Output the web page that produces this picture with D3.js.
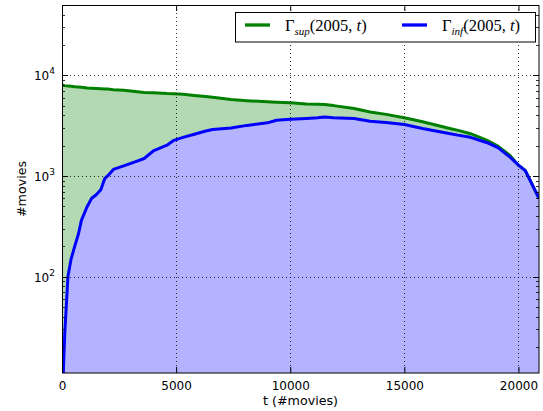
<!DOCTYPE html>
<html>
<head>
<meta charset="utf-8">
<script src="https://cdn.jsdelivr.net/npm/d3@7"></script>
<style>
  body { margin: 0; background: #fff; }
  svg { display: block; }
  text { fill: #000; }
</style>
</head>
<body>
<svg id="chart" width="543" height="411" font-family="DejaVu Sans, sans-serif"></svg>
<script>
// t values (number of movies) shared by both series
var tValues = [0, 60, 120, 260, 400, 550, 725, 850, 1100, 1300, 1500, 1700, 1870, 2000,
    2250, 2700, 3200, 3600, 4000, 4600, 4900, 5300, 5800, 6300, 6600, 7400, 8100, 9000,
    9400, 10000, 10700, 11200, 11500, 11900, 12800, 13500, 14200, 15000, 15800, 16900,
    17400, 17900, 18600, 19100, 19600, 20000, 20300, 20900];

// Gamma_sup(2005, t)
var supValues = [7950, 7950, 7900, 7850, 7800, 7700, 7650, 7600, 7500, 7450, 7400, 7350,
    7300, 7300, 7200, 7100, 6900, 6750, 6700, 6580, 6550, 6480, 6300, 6150, 6050, 5750,
    5600, 5450, 5400, 5350, 5200, 5150, 5120, 5000, 4680, 4320, 4090, 3780, 3450, 3000,
    2820, 2630, 2270, 1980, 1620, 1280, 1130, 600];

// Gamma_inf(2005, t)
var infValues = [3, 11.3, 27, 100, 150, 197, 268, 362, 495, 600, 650, 730, 940, 1000,
    1160, 1260, 1380, 1490, 1770, 2020, 2260, 2420, 2600, 2800, 2900, 2990, 3180, 3370,
    3580, 3660, 3720, 3780, 3850, 3780, 3720, 3490, 3390, 3250, 2960, 2660, 2530, 2420,
    2150, 1910, 1560, 1280, 1130, 600];

var xTicks = [0, 5000, 10000, 15000, 20000];
var yMajor = [100, 1000, 10000];
var yExps = [2, 3, 4];

var seriesNames = ["sup", "inf"];
var seriesColors = ["#008000", "#0000ff"];
var fillColors = ["#b3d9b3", "#b3b3ff"];


//*************************************************//
// Layout
//*************************************************//
var svg = d3.select("#chart");
var margin = {top: 5, right: 4, bottom: 38, left: 62};
var width = 543 - margin.left - margin.right;
var height = 411 - margin.top - margin.bottom;

var x = d3.scaleLinear().domain([0, 20900]).range([0, width]);
var y = d3.scaleLog().domain([11, 50000]).range([height, 0]);

var g = svg.append("g")
    .attr("transform", "translate(" + margin.left + "," + margin.top + ")");

g.append("clipPath").attr("id", "clip")
  .append("rect").attr("width", width).attr("height", height);

var plot = g.append("g").attr("clip-path", "url(#clip)");

var rows = tValues.map(function(t, i) {
    return {t: t, sup: supValues[i], inf: infValues[i]};
});

// Filled areas down to the bottom of the axes
seriesNames.forEach(function(key, k) {
    var area = d3.area()
        .x(function(d) { return x(d.t); })
        .y0(height)
        .y1(function(d) { return y(Math.max(d[key], 0.1)); });
    plot.append("path")
        .datum(rows)
        .attr("d", area)
        .attr("fill", fillColors[k]);
});

//*************************************************//
// Grid
//*************************************************//
var grid = g.append("g")
    .attr("stroke", "#000")
    .attr("stroke-width", 0.8)
    .attr("stroke-dasharray", "1,3");

grid.selectAll(".gx").data(xTicks.slice(1)).enter().append("line")
    .attr("x1", function(d) { return Math.round(x(d)) + 0.5; })
    .attr("x2", function(d) { return Math.round(x(d)) + 0.5; })
    .attr("y1", 0).attr("y2", height);

grid.selectAll(".gy").data(yMajor).enter().append("line")
    .attr("y1", function(d) { return Math.round(y(d)) + 0.5; })
    .attr("y2", function(d) { return Math.round(y(d)) + 0.5; })
    .attr("x1", 0).attr("x2", width);

// Lines
seriesNames.forEach(function(key, k) {
    var line = d3.line()
        .x(function(d) { return x(d.t); })
        .y(function(d) { return y(Math.max(d[key], 0.1)); });
    plot.append("path")
        .datum(rows)
        .attr("d", line)
        .attr("fill", "none")
        .attr("stroke", seriesColors[k])
        .attr("stroke-width", 3)
        .attr("stroke-linejoin", "round");
});

//*************************************************//
// Axes (ticks pointing inward)
//*************************************************//
var xAxis = g.append("g")
    .attr("transform", "translate(0," + height + ")")
    .call(d3.axisBottom(x).tickValues(xTicks).tickSizeInner(-6).tickSizeOuter(0)
        .tickPadding(8).tickFormat(d3.format("d")));
xAxis.select(".domain").remove();
xAxis.selectAll("text").attr("font-size", 12).attr("font-family", "DejaVu Sans");

var xAxisTop = g.append("g")
    .call(d3.axisTop(x).tickValues(xTicks).tickSizeInner(-6).tickSizeOuter(0)
        .tickFormat(""));
xAxisTop.select(".domain").remove();

var yMinor = [];
[10, 100, 1000, 10000].forEach(function(base) {
    for (var m = 1; m < 10; m++) {
        var v = base * m;
        if (m > 1 && v >= 11 && v <= 50000) yMinor.push(v);
    }
});

[["left", 0, 1], ["right", width, -1]].forEach(function(side) {
    var ax = g.append("g").attr("transform", "translate(" + side[1] + ",0)");
    ax.selectAll(".minor").data(yMinor).enter().append("line")
        .attr("x1", 0).attr("x2", 3 * side[2])
        .attr("y1", function(d) { return Math.round(y(d)) + 0.5; })
        .attr("y2", function(d) { return Math.round(y(d)) + 0.5; })
        .attr("stroke", "#000").attr("stroke-width", 0.8);
    ax.selectAll(".major").data(yMajor).enter().append("line")
        .attr("x1", 0).attr("x2", 6 * side[2])
        .attr("y1", function(d) { return Math.round(y(d)) + 0.5; })
        .attr("y2", function(d) { return Math.round(y(d)) + 0.5; })
        .attr("stroke", "#000").attr("stroke-width", 1);
});

// y tick labels 10^n
var yLabels = g.append("g");
yMajor.forEach(function(v, i) {
    var t = yLabels.append("text")
        .attr("x", -7)
        .attr("y", y(v) + 5)
        .attr("text-anchor", "end")
        .attr("font-size", 12);
    t.append("tspan").text("10");
    t.append("tspan").attr("dy", -6).attr("font-size", 9).text(yExps[i]);
});

// Frame
g.append("rect")
    .attr("x", 0.5).attr("y", 0.5)
    .attr("width", width - 0.5).attr("height", height - 0.5)
    .attr("fill", "none").attr("stroke", "#000").attr("stroke-width", 1);

// Axis labels
svg.append("text")
    .attr("x", margin.left + width / 2)
    .attr("y", 405)
    .attr("text-anchor", "middle")
    .attr("font-size", 12.7)
    .text("t (#movies)");

svg.append("text")
    .attr("transform", "translate(26," + (margin.top + height / 2) + ") rotate(-90)")
    .attr("text-anchor", "middle")
    .attr("font-size", 12.7)
    .text("#movies");

//*************************************************//
// Legend
//*************************************************//
var legend = svg.append("g");
legend.append("rect")
    .attr("x", 235.5).attr("y", 12.5)
    .attr("width", 300).attr("height", 29.5)
    .attr("fill", "#fff").attr("stroke", "#000").attr("stroke-width", 1);

var legendX = [245, 402];
seriesNames.forEach(function(key, k) {
    legend.append("line")
        .attr("x1", legendX[k]).attr("x2", legendX[k] + 25)
        .attr("y1", 25).attr("y2", 25)
        .attr("stroke", seriesColors[k]).attr("stroke-width", 3.3);
    var txt = legend.append("text")
        .attr("x", legendX[k] + 40)
        .attr("y", 31)
        .style("font-family", "'Liberation Serif', 'DejaVu Serif', serif")
        .attr("font-size", 16.5);
    txt.append("tspan").text("\u0393");
    txt.append("tspan").attr("dy", 4).attr("font-size", 11)
        .attr("font-style", "italic").text(key);
    txt.append("tspan").attr("dy", -4).text("(2005, ");
    txt.append("tspan").attr("font-style", "italic").text("t");
    txt.append("tspan").text(")");
});
</script>
</body>
</html>
